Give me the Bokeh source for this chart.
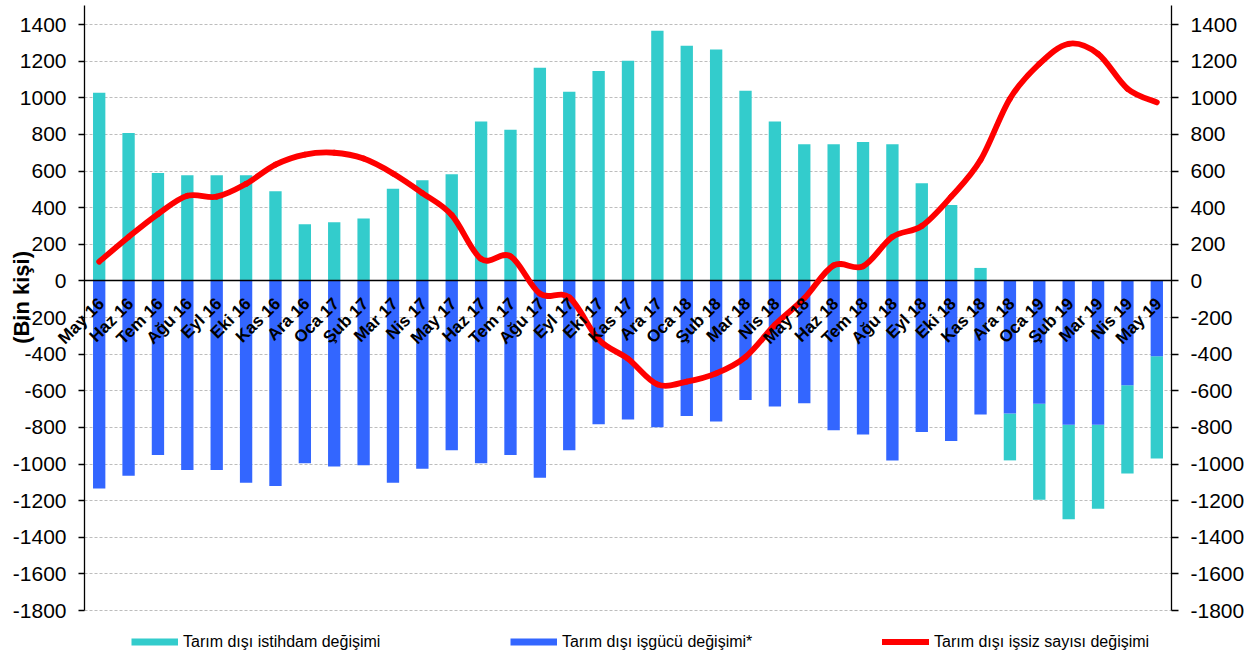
import math
import numpy as np
from bokeh.plotting import figure
from bokeh.models import (Range1d, LinearAxis, FixedTicker, Legend, LegendItem,
                          ColumnDataSource)
from bokeh.core.properties import value
from bokeh.embed import file_html
from bokeh.resources import INLINE

# ---------------- data ----------------
categories = ["May 16", "Haz 16", "Tem 16", "Ağu 16", "Eyl 16", "Eki 16", "Kas 16",
              "Ara 16", "Oca 17", "Şub 17", "Mar 17", "Nis 17", "May 17", "Haz 17",
              "Tem 17", "Ağu 17", "Eyl 17", "Eki 17", "Kas 17", "Ara 17", "Oca 18",
              "Şub 18", "Mar 18", "Nis 18", "May 18", "Haz 18", "Tem 18", "Ağu 18",
              "Eyl 18", "Eki 18", "Kas 18", "Ara 18", "Oca 19", "Şub 19", "Mar 19",
              "Nis 19", "May 19"]

# Tarım dışı istihdam değişimi (bin kişi)
istihdam = [1028, 808, 590, 577, 577, 577, 490, 309, 321, 341, 503, 550, 583, 870,
            826, 1164, 1033, 1146, 1202, 1366, 1284, 1264, 1039, 870, 746, 746, 759,
            746, 534, 414, 71, -256, -525, -517, -459, -481, -558]

# Tarım dışı işgücü değişimi* (bin kişi)
isgucu = [-1133, -1064, -951, -1033, -1033, -1102, -1120, -996, -1014, -1007, -1102,
          -1025, -925, -996, -951, -1075, -925, -783, -757, -799, -737, -768, -650,
          -686, -668, -816, -838, -980, -825, -874, -730, -724, -670, -785, -785,
          -570, -411]

# Tarım dışı işsiz sayısı değişimi (bin kişi)
issiz = [105, 240, 365, 465, 460, 530, 635, 690, 700, 668, 587, 480, 360, 120, 135,
         -70, -90, -320, -425, -565, -550, -505, -415, -240, -95, 85, 80, 240, 300,
         460, 660, 995, 1185, 1295, 1240, 1050, 975]

y_ticks = list(range(-1800, 1401, 200))
y_tick_labels = {t: str(t) for t in y_ticks}

legend_labels = ["Tarım dışı istihdam değişimi", "Tarım dışı işgücü değişimi*",
                 "Tarım dışı işsiz sayısı değişimi"]
y_label = "(Bin kişi)"

# ---------------- style ----------------
TEAL = "#33CCCC"
BLUE = "#3366FF"
RED = "#FF0000"
FONT = "Liberation Sans"

n = len(categories)
xs = np.arange(n, dtype=float)
teal = np.array(istihdam, dtype=float)
blue = np.array(isgucu, dtype=float)
teal_bottom = np.where(teal >= 0, 0.0, blue)
teal_top = np.where(teal >= 0, teal, blue + teal)

src = ColumnDataSource(dict(x=xs, cat=categories, teal_bottom=teal_bottom,
                            teal_top=teal_top, blue=blue))

W, H = 1247, 652
Y_TOP, Y_BOT = 1504, -2029
p = figure(width=W, height=H, output_backend="svg", toolbar_location=None,
           x_range=Range1d(-0.5, n - 0.5), y_range=Range1d(Y_BOT, Y_TOP),
           x_axis_type=None, min_border_left=84, min_border_right=74,
           min_border_top=5, min_border_bottom=0)
p.outline_line_color = None
p.background_fill_color = "white"
p.border_fill_color = "white"


def style_axis(ax, tick_out, standoff):
    ax.ticker = FixedTicker(ticks=y_ticks)
    ax.major_label_overrides = y_tick_labels
    ax.bounds = (-1800, Y_TOP)
    ax.major_tick_in = 0
    ax.major_tick_out = tick_out
    ax.minor_tick_in = 0
    ax.minor_tick_out = 0
    ax.major_label_standoff = standoff
    ax.major_label_text_font = FONT
    ax.major_label_text_font_size = "21px"
    ax.major_label_text_color = "black"
    ax.axis_line_color = "black"
    ax.axis_line_width = 1.3
    ax.major_tick_line_color = "black"
    ax.major_tick_line_width = 1.3


style_axis(p.yaxis[0], 6, 12)

right_axis = LinearAxis()
style_axis(right_axis, 7, 12)
p.add_layout(right_axis, "right")

p.ygrid.ticker = FixedTicker(ticks=y_ticks)
p.ygrid.grid_line_color = "#BDBDBD"
p.ygrid.grid_line_dash = "3 2"
p.ygrid.grid_line_width = 1

# bars
p.vbar(x="x", width=0.42, bottom="teal_bottom", top="teal_top", source=src,
       fill_color=TEAL, line_color=None)
p.vbar(x="x", width=0.42, bottom=0, top="blue", source=src,
       fill_color=BLUE, line_color=None)

# zero line
p.hspan(y=[0], line_color="black", line_width=1.3)

# smoothed line (cubic Bezier segments through the data points)
ys = np.array(issiz, dtype=float)
i0 = np.arange(n - 1)
ip = np.maximum(i0 - 1, 0)
in2 = np.minimum(i0 + 2, n - 1)
bz = dict(
    x0=xs[i0], y0=ys[i0], x1=xs[i0 + 1], y1=ys[i0 + 1],
    cx0=xs[i0] + (xs[i0 + 1] - xs[ip]) / 6.0,
    cy0=ys[i0] + (ys[i0 + 1] - ys[ip]) / 6.0,
    cx1=xs[i0 + 1] - (xs[in2] - xs[i0]) / 6.0,
    cy1=ys[i0 + 1] - (ys[in2] - ys[i0]) / 6.0,
)
r_red = p.bezier(x0="x0", y0="y0", x1="x1", y1="y1", cx0="cx0", cy0="cy0",
                 cx1="cx1", cy1="cy1", source=ColumnDataSource(bz),
                 line_color=RED, line_width=5.8, line_cap="round")

# category labels along the zero line
r_lab = p.text(x="x", y=0, text="cat", source=src, angle=math.pi / 4,
               text_align="right", text_baseline="middle", x_offset=2, y_offset=20,
               text_font=value(FONT), text_font_style="bold", text_font_size="17px",
               text_color="black")
r_lab.level = "overlay"

# y axis title (left of the axis, drawn unclipped)
r_ylab = p.text(x=[-2.64], y=[-90], text=[y_label], angle=math.pi / 2,
                text_align="center", text_baseline="middle",
                text_font=value(FONT), text_font_style="bold",
                text_font_size="22px", text_color="black")
r_ylab.level = "overlay"

# legend swatches (legend-only renderers)
r_leg_teal = p.line(x=[0], y=[np.nan], line_color=TEAL, line_width=7, line_cap="butt")
r_leg_blue = p.line(x=[0], y=[np.nan], line_color=BLUE, line_width=7, line_cap="butt")

for lab, rend, xloc in [(legend_labels[0], r_leg_teal, 47),
                        (legend_labels[1], r_leg_blue, 426),
                        (legend_labels[2], r_red, 798)]:
    lg = Legend(items=[LegendItem(label=lab, renderers=[rend])],
                location=(xloc, 1), orientation="horizontal", padding=0,
                margin=0, spacing=0, border_line_color=None,
                background_fill_alpha=0, glyph_width=47, glyph_height=19,
                label_height=19, label_standoff=5, label_text_font=FONT,
                label_text_font_size="16px", label_text_color="black")
    p.add_layout(lg)

open("out.html", "w").write(file_html(p, INLINE))
